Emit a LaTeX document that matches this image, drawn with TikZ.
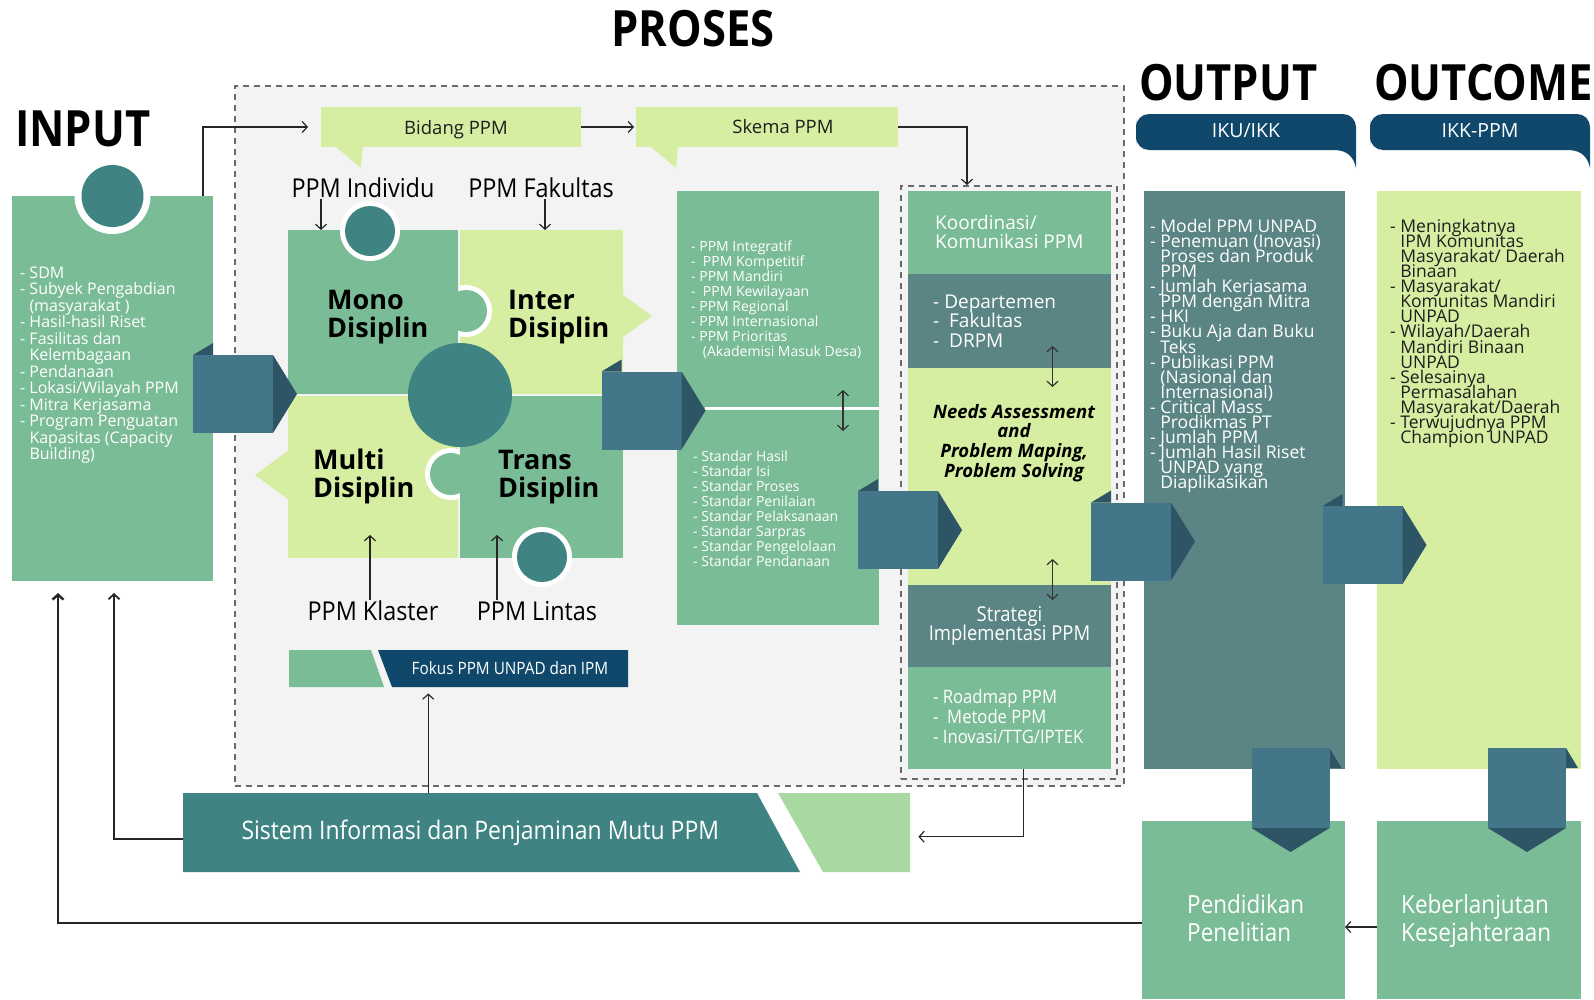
\documentclass[tikz,border=0pt]{standalone}
\usepackage{fontspec}
\setmainfont{Open Sans}
\newfontfamily\condfont[FakeStretch=0.9]{Open Sans}
\newfontfamily\headfont[FakeStretch=0.87]{Open Sans}
\usepackage{tikz}
\usetikzlibrary{positioning, arrows.meta}

\definecolor{midgreen}{HTML}{7ABC96}
\definecolor{limegreen}{HTML}{D6EEA1}
\definecolor{palegreen}{HTML}{A8D9A0}
\definecolor{tealc}{HTML}{3F8482}
\definecolor{greyteal}{HTML}{5B8584}
\definecolor{navy}{HTML}{10486C}
\definecolor{arrbody}{HTML}{447689}
\definecolor{arrdark}{HTML}{2E5566}
\definecolor{prosesbg}{HTML}{F3F3F3}
\definecolor{dashc}{HTML}{6A6A6A}
\definecolor{darktext}{HTML}{1E1E1E}

\newcommand{\listind}{\hphantom{- }}
\newcommand{\fl}{\rule{0pt}{1em}}
\newcommand{\fs}[2]{\fontsize{#1}{#2}\selectfont\lineskiplimit=-50pt}

\begin{document}
\begin{tikzpicture}[x=1pt, y=-1pt,
  box/.style={fill=#1, inner sep=0pt, outer sep=0pt, anchor=north west},
  listtxt/.style={anchor=north west, inner sep=0pt, align=left, text=white},
  bigtitle/.style={font=\headfont\fs{50}{54}\bfseries, text=black, inner sep=0pt},
  plabel/.style={font=\condfont\fs{26}{28}, text=black, inner sep=1pt},
  piece/.style={font=\fs{27}{28}\bfseries, text=black, anchor=north west, align=left, inner sep=0pt},
  dashframe/.style={draw=dashc, line width=2pt, dash pattern=on 6pt off 5pt, inner sep=0pt, anchor=north west},
  arr/.style={draw=black!85, line width=1.2pt, -{Straight Barb[length=5pt, width=11pt]}},
  dbl/.style={draw=black!80, line width=1.2pt, {Straight Barb[length=5pt, width=11pt]}-{Straight Barb[length=5pt, width=11pt]}},
  fb/.style={arr, line width=2.4pt},
  bigarr/.pic={
    \fill[arrdark] (-40,-39) -- (-20,-51) -- (-20,-39) -- cycle;
    \fill[arrbody] (-40,-39) rectangle (40,39);
    \fill[arrdark] (40,-39) -- (64,0) -- (40,39) -- cycle;
  },
  banner/.pic={
    \fill[navy, rounded corners=13pt] (0,18) -- (0,0) -- (220,0) [sharp corners] -- (220,54)
      .. controls (218,44) and (212,36) .. (198,36) [rounded corners=13pt] -- (0,36) -- cycle;
  }
]
\useasboundingbox (0,0) rectangle (1594,999);

% titles
\node[bigtitle, anchor=base] (prosesttl) at (693,46) {PROSES};
\node[bigtitle, anchor=base west] (inputttl) at (15,146) {INPUT};
\node[bigtitle, anchor=base west] (outputttl) at (1139,100) {OUTPUT};
\node[bigtitle, anchor=base west] (outcomettl) at (1374,100) {OUTCOME};

% frames
\node[dashframe, fill=prosesbg, minimum width=889pt, minimum height=700pt] (prosesframe) at (234,85) {};
\node[dashframe, minimum width=216pt, minimum height=593pt] (rframe) at (900,185) {};

% input
\node[box=midgreen, minimum width=201pt, minimum height=385pt] (input) at (12,196) {};
\fill[white] (input.north) circle[radius=38pt];
\fill[tealc] (input.north) circle[radius=31pt];
\node[listtxt, font=\fs{16}{16.5}] (inputlist) at (20,262) {\fl- SDM\\
- Subyek Pengabdian\\
\listind(masyarakat )\\
- Hasil-hasil Riset\\
- Fasilitas dan\\
\listind Kelembagaan\\
- Pendanaan\\
- Lokasi/Wilayah PPM\\
- Mitra Kerjasama\\
- Program Penguatan\\
\listind Kapasitas (Capacity\\
\listind Building)};

% bidang & skema callouts
\node[box=limegreen, minimum width=260pt, minimum height=40pt] (bidang) at (321,107) {};
\fill[limegreen] (335,146) -- (361,168) -- (363,146) -- cycle;
\node[font=\fs{18.5}{20}, text=darktext] (bidangtxt) at (456,130) {Bidang PPM};
\node[box=limegreen, minimum width=262pt, minimum height=40pt] (skema) at (636,107) {};
\fill[limegreen] (650,146) -- (676,168) -- (678,146) -- cycle;
\node[font=\fs{18.5}{20}, text=darktext] (skematxt) at (783,127) {Skema PPM};

% puzzle
\node[box=midgreen, minimum width=170pt, minimum height=164pt] (mono) at (288,230) {};
\node[box=limegreen, minimum width=163pt, minimum height=164pt] (inter) at (460,230) {};
\node[box=limegreen, minimum width=170pt, minimum height=162pt] (multi) at (288,396) {};
\node[box=midgreen, minimum width=163pt, minimum height=162pt] (trans) at (460,396) {};
\fill[limegreen] (622,294) -- (652,316) -- (622,338) -- cycle;
\fill[limegreen] (289,450) -- (255,475) -- (289,500) -- cycle;
\begin{scope}
  \clip (459,250) rectangle (520,380);
  \fill[white] (466,311) circle[radius=26pt];
\end{scope}
\fill[midgreen] (466,311) circle[radius=21pt];
\begin{scope}
  \clip (400,420) rectangle (459,540);
  \fill[white] (451,474) circle[radius=26pt];
\end{scope}
\fill[midgreen] (451,474) circle[radius=21pt];
\fill[white] (370,231) circle[radius=30pt];
\fill[tealc] (370,231) circle[radius=25pt];
\fill[white] (542,557) circle[radius=30pt];
\fill[tealc] (542,557) circle[radius=25pt];
\fill[tealc] (460,395) circle[radius=52pt];

\node[piece] (monotxt) at (327,282) {\fl Mono\\Disiplin};
\node[piece] (intertxt) at (508,282) {\fl Inter\\Disiplin};
\node[piece] (multitxt) at (313,442) {\fl Multi\\Disiplin};
\node[piece] (transtxt) at (498,442) {\fl Trans\\Disiplin};

\node[plabel] (indiv) at (363,188) {PPM Individu};
\node[plabel] (fak) at (541,188) {PPM Fakultas};
\node[plabel] (klaster) at (373,611) {PPM Klaster};
\node[plabel] (lintas) at (537,611) {PPM Lintas};

% fokus bar
\fill[midgreen] (289,650) -- (371,650) -- (384,687) -- (289,687) -- cycle;
\fill[navy] (378,650) -- (628,650) -- (628,687) -- (392,687) -- cycle;
\node[inner sep=0pt, minimum width=339pt, minimum height=37pt, anchor=north west] (fokusbar) at (289,650) {};
\node[font=\condfont\fs{17}{20}, text=white] (fokus) at (510,668.5) {Fokus PPM UNPAD dan IPM};

% skema column
\node[box=midgreen, minimum width=202pt, minimum height=434pt] (schemes) at (677,191) {};
\draw[white, line width=3pt] ([xshift=28pt]schemes.west) -- (schemes.east);
\node[listtxt, font=\fs{14}{15.1}] (skemalist) at (691,237) {\fl- PPM Integratif\\
-\ \ PPM Kompetitif\\
- PPM Mandiri\\
-\ \ PPM Kewilayaan\\
- PPM Regional\\
- PPM Internasional\\
- PPM Prioritas\\
\listind\ (Akademisi Masuk Desa)};
\node[listtxt, font=\fs{14}{15.1}] (standarlist) at (693,447) {\fl- Standar Hasil\\
- Standar Isi\\
- Standar Proses\\
- Standar Penilaian\\
- Standar Pelaksanaan\\
- Standar Sarpras\\
- Standar Pengelolaan\\
- Standar Pendanaan};

% right process column
\node[box=midgreen, minimum width=203pt, minimum height=83pt] (koord) at (908,191) {};
\node[box=greyteal, minimum width=203pt, minimum height=94pt] (dept) at (908,274) {};
\node[box=limegreen, minimum width=203pt, minimum height=217pt] (needs) at (908,368) {};
\node[box=greyteal, minimum width=203pt, minimum height=82pt, text=white, align=center, font=\condfont\fs{20.5}{19.5}] (strat) at (908,585) {Strategi\\Implementasi PPM};
\node[box=midgreen, minimum width=203pt, minimum height=102pt] (roadmap) at (908,667) {};
\node[listtxt, font=\fs{19}{19.5}] (koordtxt) at (935,210) {\fl Koordinasi/\\Komunikasi PPM};
\node[listtxt, font=\fs{19}{19.5}] (depttxt) at (933,289) {\fl- Departemen\\-\ \ Fakultas\\-\ \ DRPM};
\node[font=\fs{18.5}{19.6}\bfseries\itshape, align=center, anchor=north, inner sep=0pt] (needstxt) at (1014,399.5) {\fl Needs Assessment\\and\\Problem Maping,\\Problem Solving};
\node[listtxt, font=\condfont\fs{18.5}{20}] (roadtxt) at (933,684.5) {\fl- Roadmap PPM\\-\ \ Metode PPM\\- Inovasi/TTG/IPTEK};

% sistem bar
\fill[tealc] (183,793) -- (757,793) -- (800,872) -- (183,872) -- cycle;
\fill[palegreen] (778,793) -- (910,793) -- (910,872) -- (823,872) -- cycle;
\node[inner sep=0pt, minimum width=727pt, minimum height=79pt, anchor=north west] (sisbar) at (183,793) {};
\node[font=\condfont\fs{25.5}{28}, text=white, anchor=west] (sistem) at (238,832.5) {Sistem Informasi dan Penjaminan Mutu PPM};

% output / outcome
\pic at (1136,114) {banner};
\pic at (1370,114) {banner};
\node[font=\fs{19.5}{22}, text=white] (iku) at (1246,131) {IKU/IKK};
\node[font=\fs{19.5}{22}, text=white] (ikk) at (1480,131) {IKK-PPM};
\node[box=greyteal, minimum width=201pt, minimum height=578pt] (outbox) at (1144,191) {};
\node[box=limegreen, minimum width=204pt, minimum height=578pt] (outcomebox) at (1377,191) {};
\node[listtxt, font=\fs{17.5}{15.1}] (outlist) at (1150,214.5) {\fl- Model PPM UNPAD\\
- Penemuan (Inovasi)\\
\listind Proses dan Produk\\
\listind PPM\\
- Jumlah Kerjasama\\
\listind PPM dengan Mitra\\
- HKI\\
- Buku Aja dan Buku\\
\listind Teks\\
- Publikasi PPM\\
\listind(Nasional dan\\
\listind Internasional)\\
- Critical Mass\\
\listind Prodikmas PT\\
- Jumlah PPM\\
- Jumlah Hasil Riset\\
\listind UNPAD yang\\
\listind Diaplikasikan};
\node[listtxt, text=darktext, font=\fs{17.5}{15.1}] (outcomelist) at (1390,214.5) {\fl- Meningkatnya\\
\listind IPM Komunitas\\
\listind Masyarakat/ Daerah\\
\listind Binaan\\
- Masyarakat/\\
\listind Komunitas Mandiri\\
\listind UNPAD\\
- Wilayah/Daerah\\
\listind Mandiri Binaan\\
\listind UNPAD\\
- Selesainya\\
\listind Permasalahan\\
\listind Masyarakat/Daerah\\
- Terwujudnya PPM\\
\listind Champion UNPAD};
\node[box=midgreen, minimum width=203pt, minimum height=178pt] (pendidikan) at (1142,821) {};
\node[box=midgreen, minimum width=204pt, minimum height=178pt] (keber) at (1377,821) {};
\node[listtxt, font=\condfont\fs{25}{28}] (pendtxt) at (1187,888) {\fl Pendidikan\\Penelitian};
\node[listtxt, font=\condfont\fs{25}{28}] (kebertxt) at (1401,888) {\fl Keberlanjutan\\Kesejahteraan};

% big arrows
\pic at (233,394) {bigarr};
\pic at (641.5,410.5) {bigarr};
\pic at (898,530) {bigarr};
\pic at (1131,541.5) {bigarr};
\pic at (1362.5,545) {bigarr};
\pic[rotate=-90] at (1290.5,788) {bigarr};
\pic[rotate=-90] at (1527,788) {bigarr};

% connectors
\draw[arr] ([xshift=-10pt]input.north east) |- ([xshift=-13pt]bidang.west);
\draw[arr] (bidang.east) -- ([xshift=-2pt]skema.west);
\draw[arr] (skema.east) -| ([xshift=-42pt]rframe.north);
\draw[arr] ([xshift=-42pt]indiv.south) -- ([xshift=-42pt]indiv.south |- mono.north);
\draw[arr] ([xshift=4pt]fak.south) -- ([xshift=4pt]fak.south |- inter.north);
\draw[arr] ([xshift=-3pt]klaster.north) -- ([xshift=-3pt, yshift=23pt]klaster.north |- multi.south);
\draw[arr] ([xshift=-40pt]lintas.north) -- ([xshift=-40pt, yshift=23pt]lintas.north |- trans.south);
\draw[dbl] ([xshift=-36pt, yshift=18pt]schemes.east) -- ([xshift=-36pt, yshift=-23pt]schemes.east);
\draw[dbl] ([xshift=43pt, yshift=22pt]dept.south) -- ([xshift=43pt, yshift=-19pt]dept.south);
\draw[dbl] ([xshift=43pt, yshift=26pt]strat.north) -- ([xshift=43pt, yshift=-15pt]strat.north);
\draw[arr] ([xshift=14pt]roadmap.south) |- ([xshift=8pt, yshift=-4pt]sisbar.east);
\draw[arr, shorten >=6pt] ([xshift=-118.5pt]sisbar.north) -- ([xshift=-118.5pt]sisbar.north |- fokusbar.south);
\draw[fb] ([yshift=-13pt]pendidikan.west) -| ([xshift=-54.5pt, yshift=-12pt]input.south);
\draw[arr, line width=1.8pt] ([yshift=-6pt]sisbar.west) -| ([xshift=1.5pt, yshift=-12pt]input.south);
\draw[arr] ([yshift=-17pt]keber.west) -- ([yshift=-17pt]pendidikan.east);
\end{tikzpicture}
\end{document}
